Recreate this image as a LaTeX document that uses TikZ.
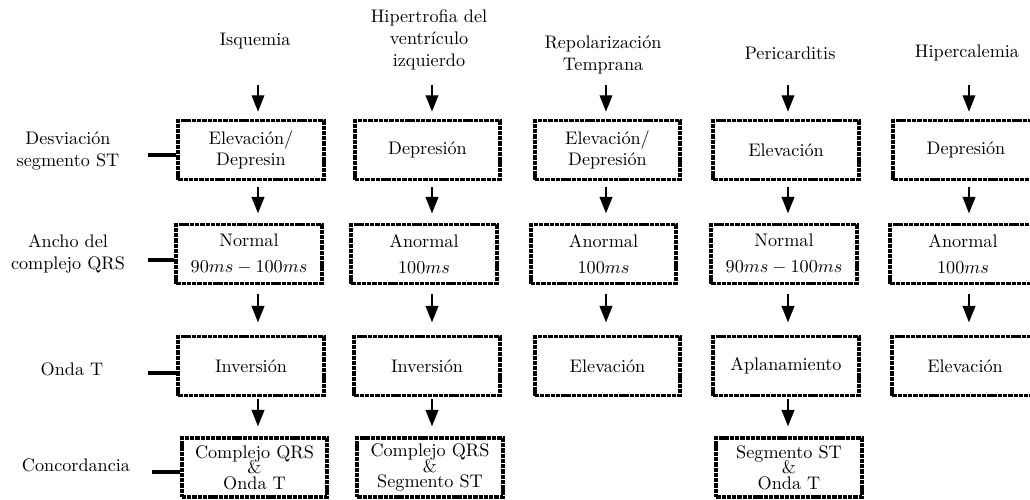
\documentclass[tikz,border=0pt]{standalone}
\usetikzlibrary{arrows.meta}
\begin{document}
\begin{tikzpicture}[x=0.55pt,y=-0.55pt,
  box/.style={draw, line width=2pt, dash pattern=on 2.4pt off 0.5pt,
    minimum width=80pt, minimum height=32.5pt, align=center, inner sep=2pt},
  ttl/.style={align=center, inner sep=0pt},
  lbl/.style={align=center, inner sep=0pt},
  arr/.style={line width=0.8pt, -{Triangle[width=7pt,length=9pt]}},
  tick/.style={line width=1.8pt}]
\clip (0,0) rectangle (1030,500);
\useasboundingbox (0,0) rectangle (1030,500);

% column coordinates
\coordinate (c1) at (258,0);
\coordinate (c2) at (432,0);
\coordinate (c3) at (606,0);
\coordinate (c4) at (788,0);
\coordinate (c5) at (969,0);

% titles
\node[ttl] (t1) at (255,41) {Isquemia};
\node[ttl] (t2) at (429,40) {Hipertrofia del\\ventrículo\\izquierdo};
\node[ttl] (t3) at (603,55) {Repolarización\\Temprana};
\node[ttl] (t4) at (790,53) {Pericarditis};
\node[ttl] (t5) at (967,53) {Hipercalemia};

% left labels
\node[lbl] (l1) at (68,151) {Desviación\\segmento ST};
\node[lbl] (l2) at (68,254) {Ancho del\\complejo QRS};
\node[lbl] (l3) at (72,369) {Onda T};
\node[lbl] (l4) at (76,465) {Concordancia};

% row 1
\node[box] (b11) at (251,150) {Elevación/\\Depresin};
\node[box] (b12) at (427.5,150) {Depresión};
\node[box] (b13) at (607.5,150) {Elevación/\\Depresión};
\node[box] (b14) at (786,150) {Elevación};
\node[box] (b15) at (966,150) {Depresión};

% row 2
\node[box] (b21) at (249,254) {Normal\\[2pt]$90ms - 100ms$};
\node[box] (b22) at (424,254) {Anormal\\[2pt]$100ms$};
\node[box] (b23) at (603.5,254) {Anormal\\[2pt]$100ms$};
\node[box] (b24) at (784,254) {Normal\\[2pt]$90ms - 100ms$};
\node[box] (b25) at (963,254) {Anormal\\[2pt]$100ms$};

% row 3
\node[box] (b31) at (251,366) {Inversión};
\node[box] (b32) at (427,366) {Inversión};
\node[box] (b33) at (607.5,366) {Elevación};
\node[box] (b34) at (786,366) {Aplanamiento};
\node[box] (b35) at (965,366) {Elevación};

% row 4
\node[box] (b41) at (254.5,467.5) {Complejo QRS\\[-3.5pt]\&\\[-3.5pt]Onda T};
\node[box] (b42) at (430,467.5) {Complejo QRS\\[-3.5pt]\&\\[-3.5pt]Segmento ST};
\node[box] (b44) at (789,467.5) {Segmento ST\\[-3.5pt]\&\\[-3.5pt]Onda T};

% ticks from labels to boxes
\coordinate (d1) at (148,155);
\coordinate (d2) at (148,260);
\coordinate (d3) at (148,373);
\coordinate (d4) at (152,472);
\draw[tick] (d1) -- (d1 -| b11.west);
\draw[tick] (d2) -- (d2 -| b21.west);
\draw[tick] (d3) -- (d3 -| b31.west);
\draw[tick] (d4) -- (d4 -| b41.west);

% arrows: titles to first row
\foreach \c/\b in {c1/b11,c2/b12,c3/b13,c4/b14,c5/b15}
  \draw[arr] (\b.north -| \c) ++(0,-34) -- ++(0,27);
% row1 -> row2
\foreach \c/\b in {c1/b11,c2/b12,c3/b13,c4/b14,c5/b15}
  \draw[arr] (\b.south -| \c) ++(0,6) -- ++(0,26);
% row2 -> row3
\foreach \c/\b in {c1/b21,c2/b22,c3/b23,c4/b24,c5/b25}
  \draw[arr] (\b.south -| \c) ++(0,9) -- ++(0,28);
% row3 -> row4
\foreach \c/\b in {c1/b31,c2/b32,c4/b34}
  \draw[arr] (\b.south -| \c) ++(0,2) -- ++(0,27);
\end{tikzpicture}
\end{document}
